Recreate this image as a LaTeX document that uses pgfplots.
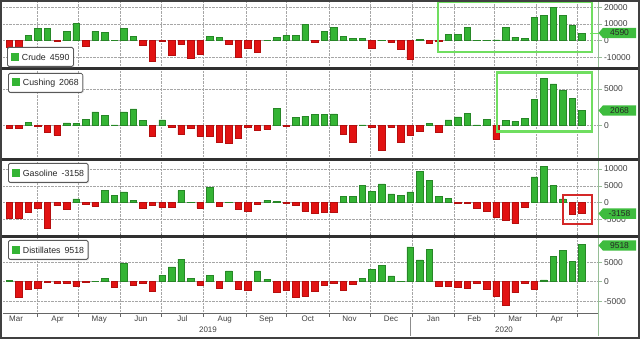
\documentclass[border=0pt]{standalone}
\usepackage{pgfplots}
\pgfplotsset{compat=1.18}
\usepackage{pgfplotstable}
\usepackage{fontspec}
\setmainfont{Liberation Sans}
\usetikzlibrary{shadows}

\definecolor{barG}{RGB}{52,180,52}
\definecolor{barR}{RGB}{226,18,18}
\definecolor{hlG}{RGB}{112,222,96}
\definecolor{hlR}{RGB}{212,40,40}
\definecolor{axG}{RGB}{150,190,150}
\definecolor{tagG}{RGB}{62,188,62}
\definecolor{sepC}{RGB}{48,48,48}

\pgfplotstableread{
i crude cushing gasoline distillates
0 -3800 -400 -4600 300
1 -3800 -400 -4600 -4000
2 3200 500 -2700 -1900
3 7600 -100 -1600 -1800
4 7200 -900 -7700 -100
5 -300 -1300 -900 -300
6 5600 400 -1900 -300
7 10200 300 1100 -1100
8 -3400 900 -400 -100
9 5600 1900 -1000 100
10 4800 1400 3700 900
11 200 100 2200 -1500
12 7200 1900 3200 4600
13 2600 2300 800 -800
14 -2800 700 -1600 -400
15 -12400 -1500 -800 -2400
16 -400 800 -1400 1600
17 -9000 -200 -1400 3800
18 -2400 -1200 3600 5800
19 -10400 -300 100 800
20 -8200 -1400 -1600 -800
21 2600 -1400 4500 1600
22 1800 -2300 -1200 -1800
23 -2400 -2400 100 2800
24 -9800 -1700 -2000 -1900
25 -4400 -200 -2500 -2300
26 -6800 -600 -600 2800
27 300 -500 700 600
28 2200 2400 500 -2800
29 3200 -100 -100 -2300
30 3200 1100 -900 -3900
31 9800 1300 -2400 -3700
32 -1200 1500 -3000 -2500
33 5800 1500 -2900 -1000
34 8200 1600 -2800 -300
35 2600 -1200 1900 -2300
36 1600 -2200 1900 -700
37 1600 100 5200 900
38 -4400 -200 3400 3100
39 300 -3300 5600 4200
40 -1000 -200 2600 1500
41 -5000 -2300 2100 100
42 -11400 -1300 3200 8900
43 1000 -700 9200 5600
44 -1800 300 6700 8200
45 -100 -900 1900 -1100
46 3600 800 1200 -1100
47 3600 1200 -100 -1300
48 7800 1700 -100 -1700
49 300 100 -1700 -400
50 300 900 -2600 -1900
51 500 -1900 -4300 -3800
52 7800 700 -5100 -6100
53 2200 600 -6100 -2800
54 1600 1000 -1400 -500
55 14200 3600 7700 -1900
56 15200 6400 10700 500
57 20200 5700 5100 6400
58 15200 4800 1100 8000
59 9200 3700 -3400 5200
60 4590 2068 -3158 9518
}\data

\pgfplotsset{
 panel/.style={
  scale only axis, width=595pt, xmin=-0.66, xmax=61.68,
  axis line style={draw=none},
  scaled y ticks=false, scaled x ticks=false,
  ytick pos=right, yticklabel pos=right,
  xtick={2.93,7.21,11.64,15.93,20.36,24.79,29.07,33.5,37.79,42.21,46.64,50.79,55.21,59.5},
  xticklabels={},
  xtick style={draw=none},
  ytick style={draw=axG, line width=0.7pt},
  tick align=outside, major tick length=4pt,
  grid=major, grid style={densely dotted, black!35, line width=0.6pt},
  ybar, bar width=0.68,
  yticklabel style={font=\fontsize{8.5}{9}\selectfont, text=black!75, xshift=-1.5pt},
  clip mode=individual,
 },
 pos/.style={fill=barG, draw=barG!75!black, line width=0.5pt, bar shift=0pt, restrict y to domain=0:100000},
 neg/.style={fill=barR, draw=barR!80!black, line width=0.5pt, bar shift=0pt, restrict y to domain=-100000:0},
}

\newcommand{\valtag}[2]{%
 \fill[tagG] (598.5,#1) -- (603,#1+5.2) -- (636,#1+5.2) -- (636,#1-5.2) -- (603,#1-5.2) -- cycle;
 \node[font=\fontsize{8.5}{9}\selectfont, text=black!85, inner sep=0pt] at (619.5,#1) {#2};}

\newcommand{\legbox}[3]{%
 \node[draw=black!65, line width=0.8pt, fill=white, rounded corners=1.5pt, anchor=north west,
   minimum height=19pt, inner xsep=4pt, font=\fontsize{8.8}{10}\selectfont, text=black!85,
   drop shadow={shadow xshift=1pt, shadow yshift=-1pt, fill=black!25}]
   at (#1,#2) {\textcolor{barG}{\rule{7.5pt}{7.5pt}}\hspace{3pt}#3};}

\begin{document}
\begin{tikzpicture}[x=1pt,y=1pt]
% Crude
\begin{axis}[panel, at={(3pt,272pt)}, anchor=south west, height=66pt,
  ymin=-15780, ymax=23820, ytick={-10000,0,10000,20000}, yticklabels={-10000,0,10000,20000}]
\addplot[pos] table[x=i,y=crude]{\data};
\addplot[neg] table[x=i,y=crude]{\data};
\draw[hlG, line width=2.5pt] (axis cs:44.9,-6800) rectangle (axis cs:61.05,23200);
\end{axis}
% Cushing
\begin{axis}[panel, at={(3pt,181pt)}, anchor=south west, height=88pt,
  ymin=-4400, ymax=7590, ytick={0,5000}, yticklabels={0,5000}]
\addplot[pos] table[x=i,y=cushing]{\data};
\addplot[neg] table[x=i,y=cushing]{\data};
\draw[hlG, line width=2.5pt] (axis cs:51.1,-820) rectangle (axis cs:61.05,7220);
\end{axis}
% Gasoline
\begin{axis}[panel, at={(3pt,104pt)}, anchor=south west, height=74pt,
  ymin=-9590, ymax=12385, ytick={-5000,0,5000,10000}, yticklabels={-5000,0,5000,10000}]
\addplot[pos] table[x=i,y=gasoline]{\data};
\addplot[neg] table[x=i,y=gasoline]{\data};
\draw[hlR, line width=2pt] (axis cs:58.0,-6280) rectangle (axis cs:61.05,2400);
\end{axis}
% Distillates
\begin{axis}[panel, at={(3pt,26pt)}, anchor=south west, height=75pt,
  ymin=-8010, ymax=11190, ytick={-5000,0,5000}, yticklabels={-5000,0,5000},
  xtick style={draw=black!60, line width=0.7pt},
  extra x ticks={0.71,5.07,9.43,13.79,18.15,22.58,26.93,31.29,35.65,40.0,44.43,48.72,53.0,57.36},
  extra x tick labels={Mar,Apr,May,Jun,Jul,Aug,Sep,Oct,Nov,Dec,Jan,Feb,Mar,Apr},
  extra x tick style={grid=none, major tick length=0pt},
  xticklabel style={font=\fontsize{8}{9}\selectfont, text=black!75, yshift=1pt}]
\addplot[pos] table[x=i,y=distillates]{\data};
\addplot[neg] table[x=i,y=distillates]{\data};
\draw[black!60, line width=0.8pt] (rel axis cs:0,0) -- (rel axis cs:1,0);
\end{axis}
% right axis line
\draw[axG, line width=0.8pt] (598,3) -- (598,338);
% leader line crude
\draw[hlG, line width=0.7pt] (590,306) -- (599,306);
% separators
\draw[sepC, line width=2.4pt] (1,270.5) -- (639,270.5);
\draw[sepC, line width=2.4pt] (1,179.5) -- (639,179.5);
\draw[sepC, line width=2.4pt] (1,102.5) -- (639,102.5);
% year labels
\draw[black!45, line width=0.6pt] (410,22) -- (410,3);
\node[font=\fontsize{8}{9}\selectfont, text=black!75] at (208,9) {2019};
\node[font=\fontsize{8}{9}\selectfont, text=black!75] at (504,9) {2020};
% tags
\valtag{306}{4590}
\valtag{228.5}{2068}
\valtag{125.4}{-3158}
\valtag{93.5}{9518}
% legends
\legbox{7}{292}{Crude\hspace{4pt}4590}
\legbox{8}{266}{Cushing\hspace{4pt}2068}
\legbox{8}{176}{Gasoline\hspace{4pt}-3158}
\legbox{8}{99}{Distillates\hspace{4pt}9518}
% frame
\draw[black!75, line width=1.2pt] (1,1) rectangle (639,338);
\pgfresetboundingbox
\useasboundingbox (0,0) rectangle (640,339);
\end{tikzpicture}
\end{document}
